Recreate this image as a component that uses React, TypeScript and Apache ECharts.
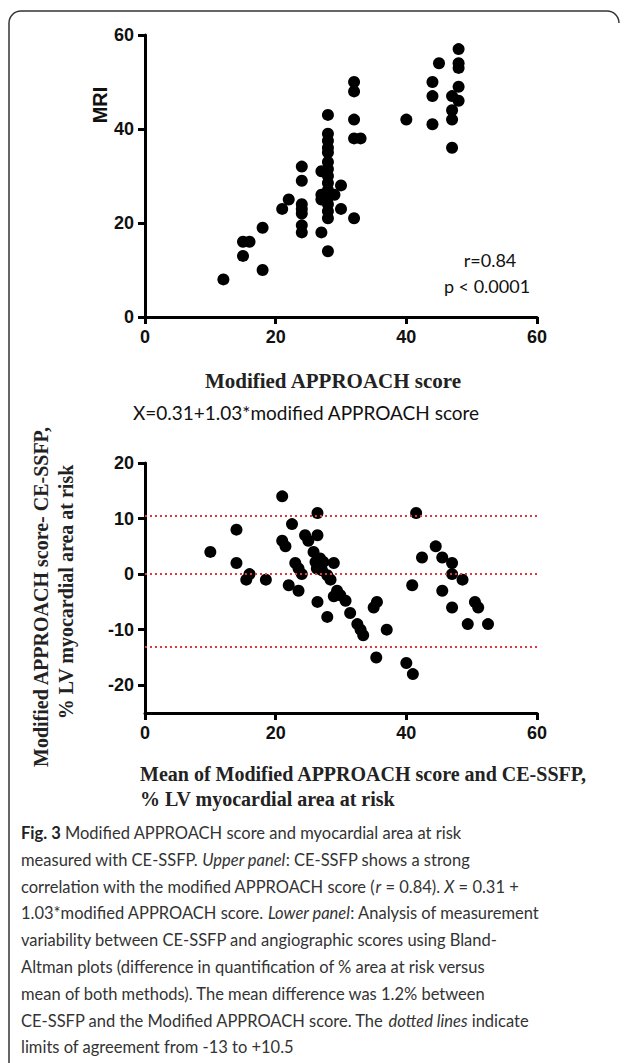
import React, { useEffect, useRef } from "react";
import * as echarts from "echarts";

// ---- Upper panel: Modified APPROACH score vs MRI (CE-SSFP) ----
const topApproach = [12, 15, 15, 16, 18, 18, 21, 22,
  24, 24, 24, 24, 24, 24, 24,
  27, 27, 27, 27,
  28, 28, 28, 28, 28, 28, 28, 28, 28, 28, 28, 28, 28, 28, 28,
  29, 30, 30,
  32, 32, 32, 32, 32, 33,
  40,
  44, 44, 44, 45,
  47, 47, 47, 47,
  48, 48, 48, 48, 48];
const topMri = [8, 13, 16, 16, 10, 19, 23, 25,
  18, 19.5, 22, 23, 24, 29, 32,
  18, 25, 26, 31,
  14, 21, 22.5, 24, 25.5, 27, 28.5, 30, 31.5, 33, 35, 36, 37.5, 39, 43,
  26, 23, 28,
  21, 38, 42, 48, 50, 38,
  42,
  41, 47, 50, 54,
  36, 42, 44, 47,
  46, 49, 53, 54, 57];

// ---- Lower panel: Bland-Altman ----
const baMean = [10, 14, 14, 15.5, 16, 18.5,
  21, 21, 21.5, 22.5, 22, 23, 23.5, 24, 23.5, 24.5, 25,
  26.4, 26.4, 25.8, 26.1, 26.8, 27.3, 26.3, 27.1, 28.9, 26.4, 27.9, 28.4, 27.9,
  29.4, 29.9, 28.9, 30.7, 31.4, 32.5, 33, 33.4, 35, 35.5, 37, 35.4, 40, 41,
  41.5, 40.9, 42.4, 44.5, 45.5, 47, 47, 48.6, 45.5, 47, 50.5, 51, 49.4, 52.5];
const baDiff = [4, 8, 2, -1, 0, -1,
  14, 6, 5, 9, -2, 2, 1, 0, -3, 7, 6,
  11, 7, 4, 2.2, 2.8, 2.2, 1, 0.7, 2, -5, -0.2, -1, -7.7,
  -3, -3.8, -4, -4.8, -7, -9, -10, -11, -6, -5, -10, -15, -16, -18,
  11, -2, 3, 5, 3, 2, 0, -1, -3, -6, -5, -6, -9, -9];
const baLimits = [10.5, 0, -13];

const xTicks = [0, 20, 40, 60];
const topYTicks = [0, 20, 40, 60];
const baYTicks = [-20, -10, 0, 10, 20];

const captionLines = [
  "{b|Fig. 3} Modified APPROACH score and myocardial area at risk",
  "measured with CE-SSFP. {i|Upper panel}: CE-SSFP shows a strong",
  "correlation with the modified APPROACH score ({i|r} = 0.84). {i|X} = 0.31 +",
  "1.03*modified APPROACH score. {i|Lower panel}: Analysis of measurement",
  "variability between CE-SSFP and angiographic scores using Bland-",
  "Altman plots (difference in quantification of % area at risk versus",
  "mean of both methods). The mean difference was 1.2% between",
  "CE-SSFP and the Modified APPROACH score. The {i|dotted lines} indicate",
  "limits of agreement from -13 to +10.5",
];

const SANS_B = '"Liberation Sans", Arial, sans-serif';
const SERIF = '"Liberation Serif", "Times New Roman", serif';
const CAP = 'Lato, "Open Sans", sans-serif';

function axisCommon() {
  return {
    type: "value" as const,
    axisLine: { show: true, onZero: false, lineStyle: { color: "#000", width: 3 } },
    axisTick: { show: true, length: 7, lineStyle: { color: "#000", width: 3 } },
    axisLabel: { color: "#111", fontFamily: SANS_B, fontWeight: "bold" as const, fontSize: 18, margin: 11 },
    splitLine: { show: false },
  };
}

export default function App() {
  const ref = useRef<HTMLDivElement>(null);
  useEffect(() => {
    document.body.style.margin = "0";
    if (!ref.current) return;
    const chart = echarts.init(ref.current, undefined, { renderer: "svg" });
    const topData = topApproach.map((x, i) => [x, topMri[i]]);
    const baData = baMean.map((x, i) => [x, baDiff[i]]);
    const c = axisCommon();
    const capSize = 16.5;
    const option: any = {
      animation: false,
      backgroundColor: "#fff",
      grid: [
        { left: 145, top: 35, width: 392, height: 282 },
        { left: 145, top: 463, width: 392, height: 250 },
      ],
      xAxis: [
        { ...c, gridIndex: 0, min: 0, max: 60, interval: 20,
          axisLabel: { ...c.axisLabel, customValues: xTicks } },
        { ...c, gridIndex: 1, min: 0, max: 60, interval: 20,
          axisLabel: { ...c.axisLabel, customValues: xTicks } },
      ],
      yAxis: [
        { ...c, gridIndex: 0, min: 0, max: 60, interval: 20,
          axisLabel: { ...c.axisLabel, customValues: topYTicks } },
        { ...c, gridIndex: 1, min: -25, max: 20,
          axisTick: { ...c.axisTick, customValues: baYTicks },
          axisLabel: { ...c.axisLabel, customValues: baYTicks } },
      ],
      series: [
        {
          type: "scatter", xAxisIndex: 0, yAxisIndex: 0, data: topData,
          symbolSize: 12, itemStyle: { color: "#000", opacity: 1 },
        },
        {
          type: "scatter", xAxisIndex: 1, yAxisIndex: 1, data: baData,
          symbolSize: 12, itemStyle: { color: "#000", opacity: 1 }, z: 3,
          markLine: {
            silent: true, symbol: ["none", "none"], label: { show: false },
            lineStyle: { color: "#e0393b", type: [2, 3], width: 2 },
            data: baLimits.map((v) => ({ yAxis: v })),
          },
        },
      ],
      graphic: [
        // frame
        { type: "line", shape: { x1: 9, y1: 23, x2: 9, y2: 1070 }, style: { stroke: "#333", lineWidth: 1.5 } },
        { type: "arc", shape: { cx: 21, cy: 23, r: 12, startAngle: Math.PI, endAngle: Math.PI * 1.5, clockwise: true }, style: { stroke: "#333", lineWidth: 1.5, fill: "none" } },
        { type: "line", shape: { x1: 21, y1: 11, x2: 607, y2: 11 }, style: { stroke: "#333", lineWidth: 1.5 } },
        { type: "arc", shape: { cx: 607, cy: 23, r: 12, startAngle: Math.PI * 1.5, endAngle: Math.PI * 2, clockwise: true }, style: { stroke: "#333", lineWidth: 1.5, fill: "none" } },
        // MRI
        { type: "text", x: 100, y: 105, rotation: Math.PI / 2,
          style: { text: "MRI", font: `bold 20px ${SANS_B}`, fill: "#111", align: "center", verticalAlign: "middle" } },
        // r, p
        { type: "text", x: 490, y: 260,
          style: { text: "r=0.84", font: `18px ${CAP}`, fill: "#111", align: "center", verticalAlign: "middle" } },
        { type: "text", x: 487, y: 286,
          style: { text: "p < 0.0001", font: `18px ${CAP}`, fill: "#111", align: "center", verticalAlign: "middle" } },
        // top x title
        { type: "text", x: 333, y: 381,
          style: { text: "Modified APPROACH score", font: `bold 21px ${SERIF}`, fill: "#222", align: "center", verticalAlign: "middle" } },
        // equation
        { type: "text", x: 306, y: 412,
          style: { text: "X=0.31+1.03*modified APPROACH score", font: `19px ${CAP}`, fill: "#111", align: "center", verticalAlign: "middle" } },
        // lower y title
        { type: "text", x: 41, y: 597, rotation: Math.PI / 2,
          style: { text: "Modified APPROACH score- CE-SSFP,", font: `bold 20px ${SERIF}`, fill: "#222", align: "center", verticalAlign: "middle" } },
        { type: "text", x: 66, y: 592, rotation: Math.PI / 2,
          style: { text: "% LV myocardial area at risk", font: `bold 20px ${SERIF}`, fill: "#222", align: "center", verticalAlign: "middle" } },
        // lower x title
        { type: "text", x: 140, y: 774,
          style: { text: "Mean of Modified APPROACH score and CE-SSFP,", font: `bold 20px ${SERIF}`, fill: "#222", align: "left", verticalAlign: "middle" } },
        { type: "text", x: 140, y: 799,
          style: { text: "% LV myocardial area at risk", font: `bold 20px ${SERIF}`, fill: "#222", align: "left", verticalAlign: "middle" } },
        // caption
        ...captionLines.map((line, i) => ({
          type: "text", x: 21, y: 833 + i * 26.8,
          style: {
            text: line, font: `${capSize}px ${CAP}`, fill: "#333", align: "left", verticalAlign: "middle",
            rich: {
              b: { fontFamily: CAP, fontSize: capSize, fontWeight: "bold", fill: "#222", color: "#222" },
              i: { fontFamily: CAP, fontSize: capSize, fontStyle: "italic", fill: "#333", color: "#333" },
            },
          },
        })),
      ],
    };
    chart.setOption(option);
    return () => chart.dispose();
  }, []);
  return <div ref={ref} style={{ width: 627, height: 1063 }} />;
}
